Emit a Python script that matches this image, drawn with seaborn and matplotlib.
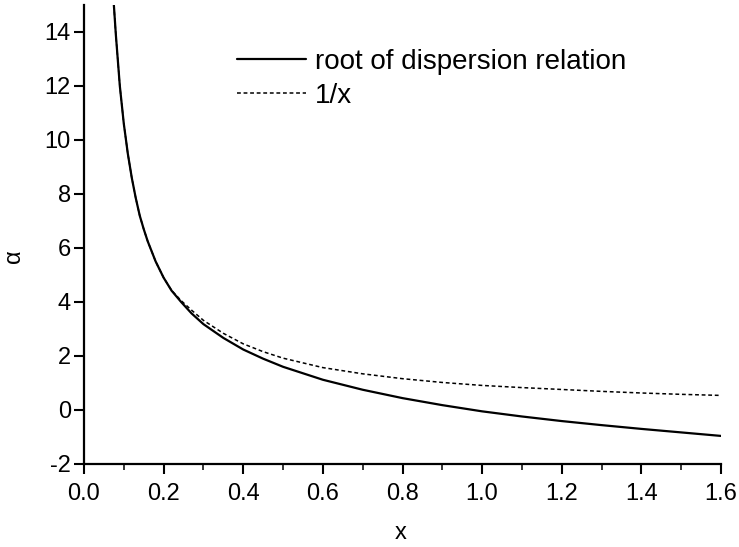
import matplotlib
matplotlib.use("Agg")
import matplotlib.pyplot as plt
import seaborn as sns
import pandas as pd
from matplotlib.ticker import MultipleLocator

root_x = [0.075, 0.08, 0.09, 0.10, 0.11, 0.12, 0.13, 0.14, 0.15, 0.16, 0.18, 0.20,
          0.22, 0.244, 0.27, 0.30, 0.35, 0.40, 0.45, 0.50, 0.60, 0.70, 0.80, 0.90,
          1.00, 1.10, 1.20, 1.30, 1.40, 1.50, 1.60]
root_y = [15.0, 13.9, 12.0, 10.6, 9.5, 8.6, 7.85, 7.2, 6.7, 6.25, 5.5, 4.9,
          4.42, 4.0, 3.58, 3.18, 2.67, 2.24, 1.9, 1.6, 1.12, 0.75, 0.44, 0.18,
          -0.05, -0.24, -0.41, -0.56, -0.70, -0.83, -0.96]

inv_x = [0.075, 0.08, 0.09, 0.10, 0.11, 0.12, 0.13, 0.14, 0.15, 0.16, 0.18, 0.20,
         0.22, 0.244, 0.27, 0.30, 0.35, 0.40, 0.45, 0.50, 0.60, 0.70, 0.80, 0.90,
         1.00, 1.10, 1.20, 1.30, 1.40, 1.50, 1.60]
inv_y = [15.0, 13.9, 12.0, 10.6, 9.5, 8.6, 7.85, 7.2, 6.7, 6.25, 5.5, 4.9,
         4.43, 4.05, 3.7, 3.32, 2.84, 2.45, 2.16, 1.92, 1.57, 1.34, 1.16, 1.02,
         0.91, 0.83, 0.76, 0.69, 0.63, 0.58, 0.54]

labels = ["root of dispersion relation", "1/x"]
x_ticks = [0.0, 0.2, 0.4, 0.6, 0.8, 1.0, 1.2, 1.4, 1.6]
y_ticks = [-2, 0, 2, 4, 6, 8, 10, 12, 14]

sns.set_style("ticks")
plt.rcParams['font.family'] = ['Liberation Sans', 'DejaVu Sans']
plt.rcParams['text.color'] = 'black'
plt.rcParams['axes.labelcolor'] = 'black'

fig = plt.figure(figsize=(7.39, 5.47), dpi=100)
ax = fig.add_axes([84/739, 1-464/547, (721-84)/739, (464-5)/547])

df_root = pd.DataFrame({"x": root_x, "y": root_y})
df_inv = pd.DataFrame({"x": inv_x, "y": inv_y})

sns.lineplot(data=df_inv, x="x", y="y", ax=ax, color="black", linewidth=1.1,
             linestyle=(0, (2.5, 1.8)), label=labels[1], sort=True)
sns.lineplot(data=df_root, x="x", y="y", ax=ax, color="black", linewidth=1.6,
             label=labels[0], sort=True)

ax.set_xlim(0.0, 1.6)
ax.set_ylim(-2, 15)
ax.set_xticks(x_ticks)
ax.set_xticklabels([f"{v:.1f}" for v in x_ticks])
ax.set_yticks(y_ticks)
ax.set_yticklabels([str(v) for v in y_ticks])
ax.xaxis.set_minor_locator(MultipleLocator(0.1))

for s in ["top", "right"]:
    ax.spines[s].set_visible(False)
for s in ["left", "bottom"]:
    ax.spines[s].set_linewidth(1.6)
    ax.spines[s].set_color("black")

ax.tick_params(axis="both", which="major", direction="out", length=7, width=1.5,
               labelsize=17, colors="black")
ax.tick_params(axis="y", which="major", pad=2.5)
ax.tick_params(axis="x", which="major", pad=6.5)
ax.tick_params(axis="x", which="minor", direction="out", length=4, width=1.3)
ax.tick_params(axis="y", which="minor", left=False)

ax.set_xlabel("x", fontsize=17, color="black")
ax.set_ylabel("α", fontsize=17, color="black")
ax.xaxis.label.set_va("center")
ax.yaxis.label.set_va("center")
ax.xaxis.set_label_coords((401-84)/637, (464-533)/459)
ax.yaxis.set_label_coords((14-84)/637, (464-256)/459)

h, l = ax.get_legend_handles_labels()
order = [l.index(labels[0]), l.index(labels[1])]
leg = ax.legend([h[i] for i in order], [l[i] for i in order], loc="upper left",
                bbox_to_anchor=(237/739, 1-49/547), bbox_transform=fig.transFigure,
                frameon=False, fontsize=20, handlelength=2.5, handletextpad=0.3,
                labelspacing=0.28, borderpad=0, borderaxespad=0,
                labelcolor="black")

fig.savefig("out.png", dpi=100)
